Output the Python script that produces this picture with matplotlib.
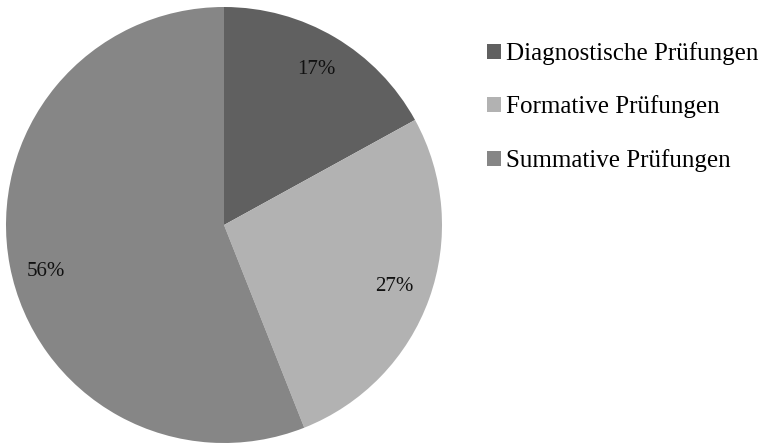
import matplotlib
matplotlib.use("Agg")
import matplotlib.pyplot as plt
from matplotlib.patches import Patch

# data
labels = ["Diagnostische Prüfungen", "Formative Prüfungen", "Summative Prüfungen"]
values = [17, 27, 56]
colors = ["#606060", "#b2b2b2", "#868686"]

plt.rcParams['font.family'] = ['Liberation Serif', 'DejaVu Serif']

fig = plt.figure(figsize=(7.61, 4.43), dpi=100)
# pie axes: center (224, 225) px, radius 218 px
W, H = 761, 443
cx, cy, r = 224, 225, 218
ax = fig.add_axes([(cx - r) / W, (H - cy - r) / H, 2 * r / W, 2 * r / H])

wedges, texts, autotexts = ax.pie(values, colors=colors, startangle=90, counterclock=False,
                                  autopct="%d%%", pctdistance=0.83, radius=1,
                                  textprops={"fontsize": 15, "color": "#111111"})
# the big slice label sits a bit lower in the original
x, y = autotexts[2].get_position()
autotexts[2].set_position((x, y - 0.06))
ax.set_xlim(-1, 1)
ax.set_ylim(-1, 1)
ax.set_aspect("equal")

handles = [Patch(facecolor=c, edgecolor="none") for c in colors]
fig.legend(handles, labels, loc="upper left", bbox_to_anchor=(487 / W, 1 - 42 / H),
           frameon=False, fontsize=18, handlelength=0.55, handleheight=0.55,
           handletextpad=0.2, labelspacing=1.22, borderaxespad=0, borderpad=0)

fig.savefig("out.png", dpi=100)
